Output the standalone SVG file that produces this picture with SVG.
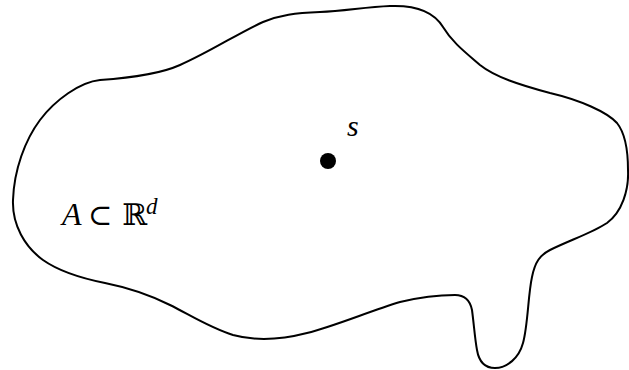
<svg xmlns="http://www.w3.org/2000/svg" width="629" height="370" viewBox="0 0 629 370">
<style>
.outline{fill:none;stroke:#000;stroke-width:2;stroke-linejoin:round}
.math{font-family:"Liberation Serif","DejaVu Serif",serif;fill:#000}
.it{font-style:italic}
.ds{font-family:"DejaVu Serif",serif}
</style>
<rect width="629" height="370" fill="#fff"/>
<g id="region-A">
<path class="outline" d="M100,80 C80,82 55,100 40,120 C25,140 14,170 13,200 C12,225 25,247 43,260 C60,272 80,278 105,283 C130,288 150,295 170,305 C190,315 210,328 233,335 C255,341 280,340 307,333 C335,326 370,311 400,302 C425,296 440,295 455,295 C465,295 470,300 472,310 C474,325 475,340 477,350 C479,362 485,368 495,368 C507,368 519,358 523,343 C528,325 528,295 532,277 C535,262 540,255 550,250 C570,240 592,233 607,223 C622,212 629,190 628,170 C628,150 625,133 617,123 C607,112 580,100 550,93 C520,85 495,77 480,65 C465,52 452,42 443,27 C434,12 415,5 390,6 C365,7 345,11 320,12 C295,13 280,15 263,22 C240,32 210,52 180,65 C160,74 130,78 100,80 Z"/>
<text class="math it" x="62" y="225" font-size="32">A</text>
<text class="math ds" x="88" y="225" font-size="29">⊂</text>
<text class="math ds" x="122" y="225" font-size="30">ℝ</text>
<text class="math it" x="146" y="214" font-size="23">d</text>
</g>
<g id="point-s">
<circle cx="328" cy="161" r="8" fill="#000"/>
<text class="math it" x="347" y="136" font-size="30">s</text>
</g>
<g id="connectors"></g>
</svg>
